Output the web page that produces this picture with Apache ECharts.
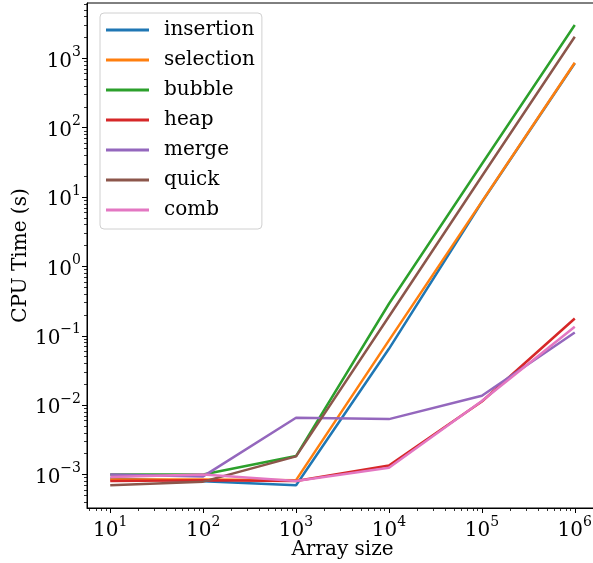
<!DOCTYPE html>
<html>
<head>
<meta charset="utf-8">
<script src="https://cdn.jsdelivr.net/npm/echarts@6/dist/echarts.min.js"></script>
<style>
html,body{margin:0;padding:0;background:#fff;}
#c{width:593px;height:563px;}
</style>
</head>
<body>
<div id="c"></div>
<script>
// ---- data ----
var sizes = [10, 100, 1000, 10000, 100000, 1000000];
var seriesNames = ['insertion', 'selection', 'bubble', 'heap', 'merge', 'quick', 'comb'];
var insertion = [0.00088, 0.00080, 0.00070, 0.065, 8.5, 850];
var selection = [0.00085, 0.00085, 0.00083, 0.086, 8.6, 865];
var bubble    = [0.00100, 0.00100, 0.00185, 0.29, 30, 3030];
var heap      = [0.00081, 0.00083, 0.00081, 0.00135, 0.0113, 0.178];
var merge     = [0.00100, 0.00094, 0.0066, 0.0063, 0.0137, 0.112];
var quick     = [0.00070, 0.00079, 0.00183, 0.19, 20, 2050];
var comb      = [0.00092, 0.00100, 0.00081, 0.00125, 0.0115, 0.135];
var xMajorExp = [1, 2, 3, 4, 5, 6];
var yMajorExp = [-3, -2, -1, 0, 1, 2, 3];
var xTitle = 'Array size';
var yTitle = 'CPU Time (s)';

var colors = ['#1f77b4', '#ff7f0e', '#2ca02c', '#d62728', '#9467bd', '#8c564b', '#e377c2'];
var allValues = [insertion, selection, bubble, heap, merge, quick, comb];

// axis extents in log10 space (matplotlib-like margins)
var xLogMin = 0.75, xLogMax = 6.25;
var yLogMin = -3.482, yLogMax = 3.798;

function minorTicks(lo, hi) {
  var out = [];
  for (var e = Math.floor(lo) - 1; e <= Math.ceil(hi); e++) {
    for (var k = 2; k <= 9; k++) {
      var v = e + Math.log10(k);
      if (v > lo && v < hi) out.push(v);
    }
  }
  return out;
}

var FONT = 'DejaVu Serif';
function expLabel(v) {
  var e = Math.round(v);
  var s = e < 0 ? '\u2212' + (-e) : '' + e;
  return '{b|10}{s|' + s + '}';
}
var richSup = {
  b: { fontFamily: FONT, fontSize: 20, lineHeight: 20, verticalAlign: 'bottom', color: '#000' },
  s: { fontFamily: FONT, fontSize: 14, lineHeight: 26, verticalAlign: 'top', color: '#000' }
};

var chart = echarts.init(document.getElementById('c'), null, { renderer: 'canvas' });

var series = seriesNames.map(function (name, i) {
  return {
    name: name,
    type: 'line',
    xAxisIndex: 0,
    yAxisIndex: 0,
    symbol: 'none',
    silent: true,
    animation: false,
    lineStyle: { width: 2.5, color: colors[i] },
    itemStyle: { color: colors[i] },
    data: sizes.map(function (x, j) { return [x, allValues[i][j]]; })
  };
});

var option = {
  animation: false,
  backgroundColor: '#fff',
  grid: {
    left: 87, top: 3, width: 511, height: 505,
    outerBoundsMode: 'none',
    containLabel: false,
    show: true, borderColor: '#000', borderWidth: 1, backgroundColor: 'transparent'
  },
  legend: {
    orient: 'vertical',
    left: 100, top: 13,
    data: seriesNames,
    icon: 'rect',
    itemWidth: 43, itemHeight: 3,
    itemGap: 10,
    padding: [7, 7, 9, 6],
    backgroundColor: 'rgba(255,255,255,0.8)',
    borderColor: '#d0d0d0', borderWidth: 1, borderRadius: 4,
    textStyle: { fontFamily: FONT, fontSize: 20, lineHeight: 20, color: '#000', padding: [0, 0, 0, 10] }
  },
  xAxis: [
    { type: 'log', min: Math.pow(10, xLogMin), max: Math.pow(10, xLogMax), show: false, gridIndex: 0 },
    {
      type: 'value', min: xLogMin, max: xLogMax, position: 'bottom', gridIndex: 0,
      name: xTitle, nameLocation: 'middle', nameGap: 32, nameMoveOverlap: false,
      nameTextStyle: { fontFamily: FONT, fontSize: 20, color: '#000' },
      axisLine: { show: true, onZero: false, lineStyle: { color: '#000', width: 1 } },
      axisTick: { show: true, customValues: xMajorExp, length: 5, lineStyle: { color: '#000', width: 1 } },
      axisLabel: { show: true, customValues: xMajorExp, margin: 7, formatter: expLabel, rich: richSup },
      splitLine: { show: false }
    },
    {
      type: 'value', min: xLogMin, max: xLogMax, position: 'bottom', gridIndex: 0,
      axisLine: { show: false, onZero: false },
      axisTick: { show: true, customValues: minorTicks(xLogMin, xLogMax), length: 3, lineStyle: { color: '#000', width: 0.8 } },
      axisLabel: { show: false },
      splitLine: { show: false }
    }
  ],
  yAxis: [
    { type: 'log', min: Math.pow(10, yLogMin), max: Math.pow(10, yLogMax), show: false, gridIndex: 0 },
    {
      type: 'value', min: yLogMin, max: yLogMax, position: 'left', gridIndex: 0,
      name: yTitle, nameLocation: 'middle', nameGap: 56, nameRotate: 90, nameMoveOverlap: false,
      nameTextStyle: { fontFamily: FONT, fontSize: 20, color: '#000' },
      axisLine: { show: true, onZero: false, lineStyle: { color: '#000', width: 1 } },
      axisTick: { show: true, customValues: yMajorExp, length: 5, lineStyle: { color: '#000', width: 1 } },
      axisLabel: { show: true, customValues: yMajorExp, margin: 6, formatter: expLabel, rich: richSup },
      splitLine: { show: false }
    },
    {
      type: 'value', min: yLogMin, max: yLogMax, position: 'left', gridIndex: 0,
      axisLine: { show: false, onZero: false },
      axisTick: { show: true, customValues: minorTicks(yLogMin, yLogMax), length: 3, lineStyle: { color: '#000', width: 0.8 } },
      axisLabel: { show: false },
      splitLine: { show: false }
    }
  ],
  series: series
};
chart.setOption(option);
</script>
</body>
</html>
